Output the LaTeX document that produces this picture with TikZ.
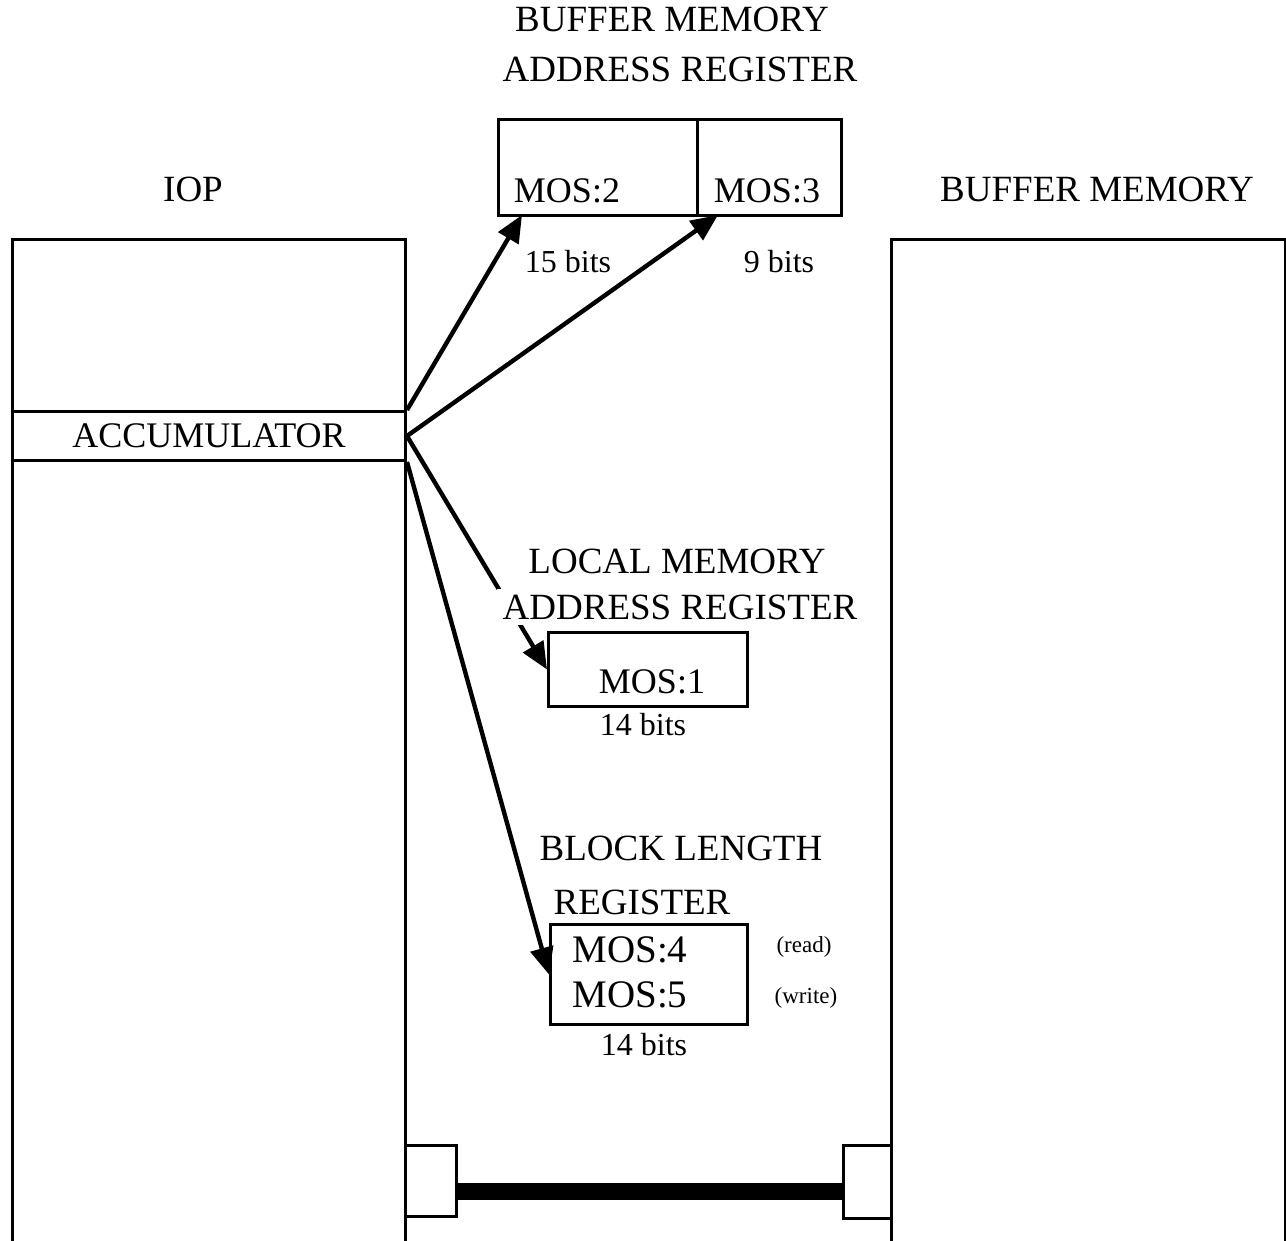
\documentclass[tikz,border=0pt]{standalone}
\usepackage{fontspec}
\setmainfont{Liberation Serif}
\usetikzlibrary{arrows.meta}
\begin{document}
\begin{tikzpicture}[x=0.5pt,y=-0.5pt,
 box/.style={draw,line width=1.5pt,inner sep=0pt,anchor=north west},
 lbl/.style={font=\fontsize{18.5}{20}\selectfont,anchor=base,inner sep=0pt},
 mos/.style={font=\fontsize{18}{20}\selectfont,anchor=base,inner sep=0pt},
 bits/.style={font=\fontsize{16}{18}\selectfont,anchor=base,inner sep=0pt},
 small/.style={font=\fontsize{11.5}{13}\selectfont,inner sep=0pt},
 arr/.style={line width=2.2pt,-{Triangle[length=13.5pt,width=11.5pt]}},
 bar/.style={line width=8.5pt}]
\useasboundingbox (0,0) rectangle (1286,1241);
% main blocks
\node[box,minimum width=196.5pt,minimum height=525pt] (iop) at (11,238) {};
\node[box,minimum width=196.5pt,minimum height=24.5pt,font=\fontsize{18}{20}\selectfont] (acc) at (11,410) {ACCUMULATOR};
\node[box,minimum width=197pt,minimum height=525pt] (buf) at (890,238) {};
% registers
\node[box,minimum width=99.5pt,minimum height=48pt] (bmar2) at (497,118) {};
\node[box,minimum width=72pt,minimum height=48pt] (bmar3) at (696,118) {};
\node[box,minimum width=99.5pt,minimum height=37pt] (lmar) at (547,631) {};
\node[box,minimum width=98.5pt,minimum height=50pt] (blr) at (549,923) {};
% link squares
\node[box,minimum width=25.5pt,minimum height=35.5pt] (sqL) at (404,1144) {};
\node[box,minimum width=24pt,minimum height=36.5pt] (sqR) at (842,1144) {};
\coordinate (bary) at (0,1191);
\draw[bar] (sqL.east |- bary) -- (sqR.west |- bary);
% arrows
\coordinate (e2) at (522,215);
\coordinate (e3) at (718,215);
\draw[arr] (acc.north east) -- (e2);
\draw[arr] (acc.east) -- (e3);
\draw[arr] (acc.east) -- (lmar.west);
\draw[arr] (acc.south east) -- (blr.west);
% labels
\node[lbl] (ttl1) at (672,32) {BUFFER MEMORY};
\node[lbl] (ttl2) at (680,82) {ADDRESS REGISTER};
\node[lbl] (iopl) at (193,202) {IOP};
\node[lbl] (bufl) at (1097,202) {BUFFER MEMORY};
\node[mos] (m2) at (567,203) {MOS:2};
\node[mos] (m3) at (767,203) {MOS:3};
\node[bits] (b15) at (568,273) {15 bits};
\node[bits] (b9) at (779,273) {9 bits};
\node[lbl] (lm1) at (677,573) {LOCAL MEMORY};
\node[lbl,fill=white,inner sep=3pt] (lm2) at (680,619) {ADDRESS REGISTER};
\node[mos] (m1) at (652,693) {MOS:1};
\node[bits] (b14a) at (643,735) {14 bits};
\node[lbl] (bl1) at (681,860) {BLOCK LENGTH};
\node[lbl] (bl2) at (642,914) {REGISTER};
\node[mos,font=\fontsize{19.5}{21}\selectfont] (m4) at (630,962) {MOS:4};
\node[mos,font=\fontsize{19.5}{21}\selectfont] (m5) at (630,1007) {MOS:5};
\node[small] (rd) at (804,947) {(read)};
\node[small] (wr) at (806,998) {(write)};
\node[bits] (b14b) at (644,1055) {14 bits};
\end{tikzpicture}
\end{document}
